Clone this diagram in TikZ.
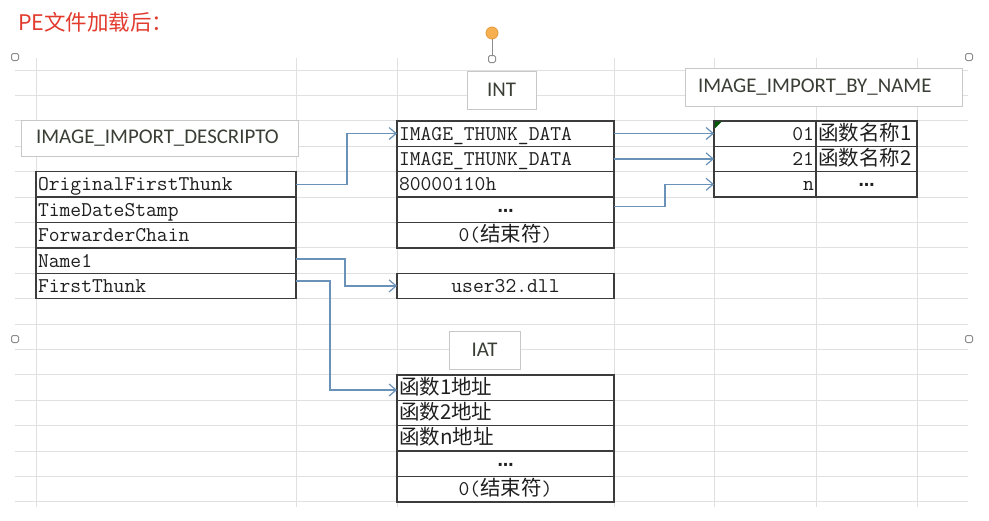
\documentclass[tikz,border=0pt]{standalone}
\usepackage{fontspec}
\setmainfont{Liberation Serif}
\newfontfamily\cjk{Noto Sans CJK SC}
\newfontfamily\monof{Latin Modern Mono}
\newfontfamily\calf{Carlito}
\newfontfamily\dvf{DejaVu Sans}
\usetikzlibrary{arrows.meta,calc}
\definecolor{gridc}{HTML}{E0E0E0}
\definecolor{tblc}{HTML}{3C3C3C}
\definecolor{arrc}{HTML}{6A92B8}
\definecolor{boxc}{HTML}{C8C8C8}
\definecolor{labelc}{HTML}{3A3F36}
\definecolor{titlered}{HTML}{E23B2E}
\definecolor{handlec}{HTML}{8C8C8C}
\definecolor{orangec}{HTML}{F7B04F}
\definecolor{orangeb}{HTML}{E59A38}
\newcommand{\cjkt}[1]{{\cjk\fontsize{20.5}{22}\selectfont #1}}
\newcommand{\dotsc}{{\dvf\bfseries\fontsize{16}{18}\selectfont ⋯}}
\tikzset{
  gridline/.style={draw=gridc, line width=1pt},
  cell/.style={draw=tblc, line width=1.4pt, fill=white, minimum height=25.4,
    inner ysep=0pt, inner xsep=2pt, outer sep=0pt, text height=14, text depth=1,
    font=\monof\fontsize{21}{22}\selectfont, text=black!88},
  tbox/.style={draw=boxc, line width=1pt, fill=white, inner ysep=0pt, outer sep=0pt,
    font=\calf\fontsize{20.9}{22}\selectfont, text=labelc},
  conn/.style={draw=arrc, line width=1.4pt, -{Straight Barb[length=7pt,width=12pt,line width=1.2pt]}},
  handle/.style={draw=handlec, fill=white, line width=1pt, rounded corners=1.5pt,
    minimum size=7, inner sep=0pt},
}
\begin{document}
\begin{tikzpicture}[x=1pt,y=-1pt]
\useasboundingbox (0,0) rectangle (989,520);
\fill[white] (0,0) rectangle (989,520);
% spreadsheet grid
\foreach \k in {0,...,17} \draw[gridline] (15,70+25.4*\k) -- (968,70+25.4*\k);
\foreach \x in {36,296,397,614,714,816,917} \draw[gridline] (\x,58) -- (\x,507);

% title
\node[anchor=west, inner sep=0pt, text=titlered, font=\cjk\fontsize{21.5}{23}\selectfont] (title) at (18,22) {PE文件加载后：};

% selection handles
\node[circle, fill=orangec, draw=orangeb, line width=0.8pt, minimum size=12, inner sep=0pt] (rot) at (492,33) {};
\node[handle] (hc) at (492,59) {};
\draw[handlec, line width=1pt] (rot) -- (hc);
\node[handle] (h1) at (15,57) {};
\node[handle] (h2) at (969,57) {};
\node[handle] (h3) at (15,339) {};
\node[handle] (h4) at (969,339) {};

% text boxes
\node[tbox, minimum width=277, minimum height=36, inner xsep=15, text width=247, align=left] (descl) at (159.5,138) {IMAGE\_IMPORT\_DESCRIPTO};
\node[tbox, minimum width=69, minimum height=38, inner xsep=2] (intl) at (501.5,90) {INT};
\node[tbox, minimum width=277, minimum height=38, inner xsep=13, text width=251, align=left] (bnl) at (823.5,87) {IMAGE\_IMPORT\_BY\_NAME};
\node[tbox, minimum width=71, minimum height=38, inner xsep=2] (iatl) at (484.5,350) {IAT};

% IMAGE_IMPORT_DESCRIPTOR table
\node[cell, text width=256, align=left] (oft) at (166,184.3) {OriginalFirstThunk};
\node[cell, text width=256, align=left] (tds) at (166,209.7) {TimeDateStamp};
\node[cell, text width=256, align=left] (fwc) at (166,235.1) {ForwarderChain};
\node[cell, text width=256, align=left] (nm)  at (166,260.5) {Name1};
\node[cell, text width=256, align=left] (ft)  at (166,285.9) {FirstThunk};

% INT table
\node[cell, text width=213, align=left] (int1) at (505.5,133.5) {IMAGE\_THUNK\_DATA};
\node[cell, text width=213, align=left] (int2) at (505.5,158.9) {IMAGE\_THUNK\_DATA};
\node[cell, text width=213, align=left] (int3) at (505.5,184.3) {80000110h};
\node[cell, text width=213, align=center] (int4) at (505.5,209.7) {\dotsc};
\node[cell, text width=213, align=center] (int5) at (505.5,235.1) {0(\cjkt{结束符})};
\node[cell, text width=213, align=center] (dll) at (505.5,285.9) {user32.dll};

% IMAGE_IMPORT_BY_NAME table
\node[cell, text width=98, align=right] (bn1) at (765,133.5) {01};
\node[cell, text width=97, align=left] (bs1) at (866.5,133.5) {\cjkt{函数名称1}};
\node[cell, text width=98, align=right] (bn2) at (765,158.9) {21};
\node[cell, text width=97, align=left] (bs2) at (866.5,158.9) {\cjkt{函数名称2}};
\node[cell, text width=98, align=right] (bn3) at (765,184.3) {n};
\node[cell, text width=97, align=center] (bs3) at (866.5,184.3) {\dotsc};
\fill[green!35!black] (714.8,121.5) -- ++(7,0) -- ++(-7,7) -- cycle;

% IAT table
\node[cell, text width=213, align=left] (iat1) at (505.5,387.5) {\cjkt{函数1地址}};
\node[cell, text width=213, align=left] (iat2) at (505.5,412.9) {\cjkt{函数2地址}};
\node[cell, text width=213, align=left] (iat3) at (505.5,438.3) {\cjkt{函数n地址}};
\node[cell, text width=213, align=center] (iat4) at (505.5,463.7) {\dotsc};
\node[cell, text width=213, align=center] (iat5) at (505.5,489.1) {0(\cjkt{结束符})};

% connectors
\draw[conn] (oft.east) -- ++(51,0) |- (int1.west);
\draw[conn] (int1.east) -- (bn1.west);
\draw[conn] (int2.east) -- (bn2.west);
\draw[conn] ([yshift=3pt]int4.east) -- ++(51,0) |- (bn3.west);
\draw[conn] ([yshift=1.5pt]nm.east) -- ++(49,0) |- (dll.west);
\draw[conn] ([yshift=5pt]ft.east) -- ++(34,0) |- ([yshift=-2.5pt]iat1.west);
\end{tikzpicture}
\end{document}
